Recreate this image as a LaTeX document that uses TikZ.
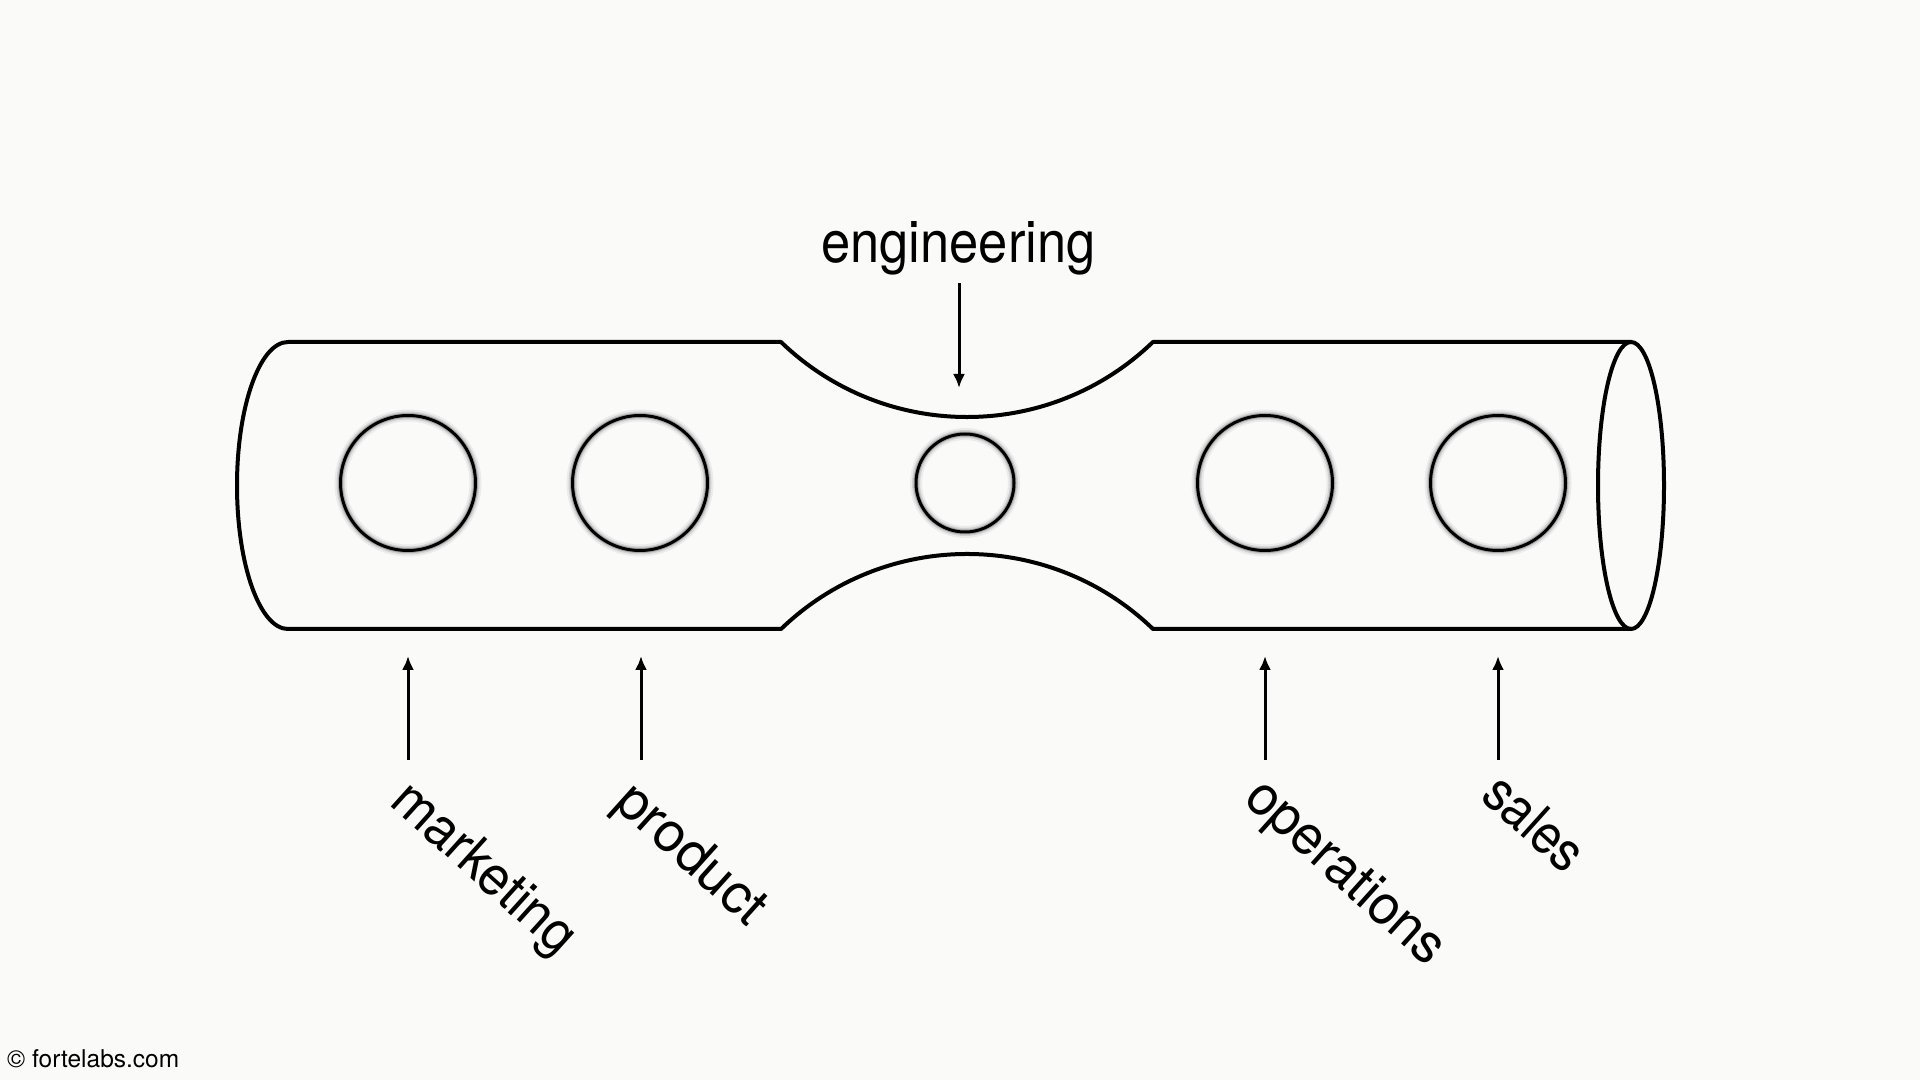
\documentclass[tikz,border=0pt]{standalone}
\usepackage{fontspec}
\usepackage{graphicx}
\setmainfont{TeX Gyre Heros}
\usetikzlibrary{arrows.meta,shapes.geometric}
\definecolor{bg}{RGB}{250,250,249}
\tikzset{
  pipeline/.style={line width=4pt, line join=round, black},
  hole/.style={circle, draw=black, line width=3pt, inner sep=0pt},
  holeglow/.style={circle, inner sep=0pt},
  arr/.style={line width=3pt, -{Latex[length=14pt,width=12pt]}},
  toplabel/.style={inner sep=0pt, font=\fontsize{58}{62}\selectfont},
  sidelabel/.style={inner sep=0pt, rotate=-42, anchor=base west, font=\fontsize{55}{60}\selectfont},
}
\begin{document}
\begin{tikzpicture}[x=1pt,y=1pt]
\fill[bg] (0,0) rectangle (1920,1080);
\useasboundingbox (0,0) rectangle (1920,1080);

% pipe outline
\draw[pipeline] (1631,451) -- (1153,451)
  arc[start angle=46.06, end angle=133.94, radius=268] -- (288,451)
  arc[start angle=270, end angle=90, x radius=51, y radius=143.5] -- (781,738)
  arc[start angle=226.06, end angle=313.94, radius=268] -- (1631,738);
\node[draw=black, line width=4pt, ellipse, inner sep=0pt, minimum width=66pt, minimum height=287pt] (pipeend) at (1631,594.5) {};

% glow under the circles
\foreach \x/\d in {408/135, 640/135, 965/98, 1265/135, 1498/135} {
  \node[holeglow, draw=black!8, line width=12pt, minimum size=\d pt] at (\x,597) {};
  \node[holeglow, draw=black!18, line width=8pt, minimum size=\d pt] at (\x,597) {};
  \node[holeglow, draw=black!35, line width=5pt, minimum size=\d pt] at (\x,597) {};
}

% circles
\node[hole, minimum size=135pt] (c1) at (408,597) {};
\node[hole, minimum size=135pt] (c2) at (640,597) {};
\node[hole, minimum size=98pt]  (c3) at (965,597) {};
\node[hole, minimum size=135pt] (c4) at (1265,597) {};
\node[hole, minimum size=135pt] (c5) at (1498,597) {};

% engineering
\node[toplabel, anchor=base] (eng) at (958.5,817) {\scalebox{.905}[1]{engineering}};
\coordinate (engtail) at (959,797);
\coordinate (enghead) at (959,692);
\draw[arr] (engtail) -- (enghead);

% bottom arrows
\foreach \n/\x in {mk/408, pr/641, op/1265, sa/1498} {
  \coordinate (\n tail) at (\x,320);
  \coordinate (\n head) at (\x,424);
  \draw[arr] (\n tail) -- (\n head);
}

% rotated labels
\node[sidelabel] (mk) at (388,276) {\scalebox{.95}[1]{marketing}};
\node[sidelabel] (pr) at (612,275) {\scalebox{1.0}[1]{product}};
\node[sidelabel] (op) at (1242,279) {\scalebox{.97}[1]{operations}};
\node[sidelabel] (sa) at (1479,282) {\scalebox{.9}[1]{sales}};

% copyright
\node[inner sep=0pt, anchor=base west, font=\fontsize{24.5}{28}\selectfont] (copy) at (7,13) {© fortelabs.com};
\end{tikzpicture}
\end{document}
